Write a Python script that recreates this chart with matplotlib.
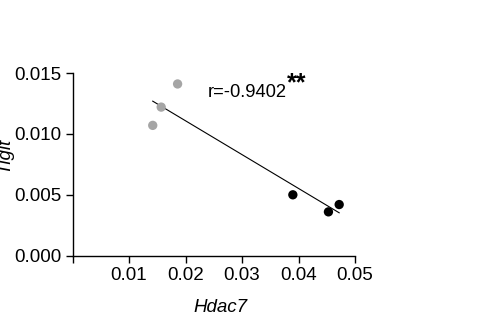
import numpy as np
import matplotlib
matplotlib.use('Agg')
import matplotlib.pyplot as plt

plt.rcParams['font.family'] = ['Liberation Sans', 'DejaVu Sans']

# data
gray_x = [0.0186, 0.0157, 0.0142]
gray_y = [0.0141, 0.0122, 0.0107]
black_x = [0.0390, 0.0453, 0.0472]
black_y = [0.0050, 0.0036, 0.0042]
x_ticks = [0.01, 0.02, 0.03, 0.04, 0.05]
y_ticks = [0.0, 0.005, 0.010, 0.015]
r_text = 'r=-0.9402'

fig = plt.figure(figsize=(4.94, 3.27), dpi=100)
ax = fig.add_axes([72.5/494, 1 - 255.7/327, (355 - 72.5)/494, (255.7 - 73)/327])

ax.scatter(gray_x, gray_y, s=45, color='#a5a5a5', edgecolors='none', zorder=3)
ax.scatter(black_x, black_y, s=45, color='black', edgecolors='none', zorder=3)

# regression line over all points
all_x = np.array(gray_x + black_x)
all_y = np.array(gray_y + black_y)
k, b = np.polyfit(all_x, all_y, 1)
lx = np.array([all_x.min(), all_x.max()])
ax.plot(lx, k*lx + b, color='black', lw=0.8, zorder=2)

ax.text(0.0240, 0.0130, r_text, fontsize=13.2, ha='left', va='baseline')
ax.text(0.0379, 0.01355, '**', fontsize=18, ha='left', va='baseline', fontweight='bold')

ax.set_xlim(0, 0.05)
ax.set_ylim(0, 0.015)
ax.set_xticks([0] + x_ticks)
ax.set_xticklabels([''] + ['%.2f' % v for v in x_ticks])
ax.set_yticks(y_ticks)
ax.set_yticklabels(['%.3f' % v for v in y_ticks])
ax.tick_params(labelsize=13.5, length=5, width=1, pad=3)
for side in ['top', 'right']:
    ax.spines[side].set_visible(False)
for side in ['left', 'bottom']:
    ax.spines[side].set_linewidth(1)

ax.set_xlabel('Hdac7', fontsize=13.5, style='italic')
ax.xaxis.set_label_coords(0.522, -0.235)
ax.set_ylabel('Tigit', fontsize=13.5, style='italic')
ax.yaxis.set_label_coords(-0.21, 0.55)

fig.savefig('out.png', dpi=100)
